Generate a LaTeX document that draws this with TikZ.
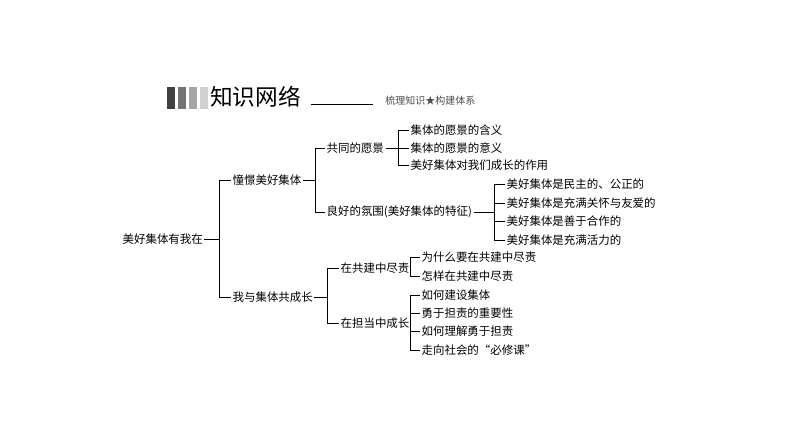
\documentclass[tikz,border=0pt]{standalone}
\usepackage{fontspec}
\setmainfont{Noto Sans CJK SC}
\begin{document}
\begin{tikzpicture}[x=0.75pt,y=-0.75pt,
  t/.style={anchor=west,inner sep=1pt,font=\fontsize{8.6}{10}\selectfont},
  ln/.style={line width=0.6pt}]
\useasboundingbox (0,0) rectangle (794,446);
% header
\fill[black!75] (167,87) rectangle (175,109);
\fill[black!55] (178,87) rectangle (186,109);
\fill[black!35] (189,87) rectangle (197,109);
\fill[black!18] (200,87) rectangle (208,109);
\node[anchor=west,inner sep=0,font=\fontsize{17}{20}\selectfont] (title) at (210,97) {知识网络};
\coordinate (hl1) at (311,104); \coordinate (hl2) at (373,104);
\draw[line width=0.5pt] (hl1) -- (hl2);
\node[anchor=west,inner sep=0,font=\fontsize{7.5}{9}\selectfont,text=black!70] (sub) at (385,101) {梳理知识★构建体系};
% nodes
\node[t] (r) at (121,239) {美好集体有我在};
\node[t] (a) at (231,180) {憧憬美好集体};
\node[t] (b) at (231,297) {我与集体共成长};
\node[t] (a1) at (325,148) {共同的愿景};
\node[t] (a2) at (325,212) {良好的氛围(美好集体的特征)};
\node[t] (a11) at (409,130) {集体的愿景的含义};
\node[t] (a12) at (409,148) {集体的愿景的意义};
\node[t] (a13) at (409,165) {美好集体对我们成长的作用};
\node[t] (a21) at (505,184) {美好集体是民主的、公正的};
\node[t] (a22) at (505,203) {美好集体是充满关怀与友爱的};
\node[t] (a23) at (505,221) {美好集体是善于合作的};
\node[t] (a24) at (505,240) {美好集体是充满活力的};
\node[t] (b1) at (339,268) {在共建中尽责};
\node[t] (b2) at (339,323) {在担当中成长};
\node[t] (b11) at (420,257) {为什么要在共建中尽责};
\node[t] (b12) at (420,276) {怎样在共建中尽责};
\node[t] (b21) at (420,295) {如何建设集体};
\node[t] (b22) at (420,313) {勇于担责的重要性};
\node[t] (b23) at (420,331) {如何理解勇于担责};
\node[t] (b24) at (420,350) {走向社会的“必修课”};
% connectors
\foreach \p/\x/\f/\l/\cs in {r/219/a/b/{a,b}, a/315/a1/a2/{a1,a2}, a1/398/a11/a13/{a11,a12,a13},
  a2/494/a21/a24/{a21,a22,a23,a24}, b/327/b1/b2/{b1,b2}, b1/410/b11/b12/{b11,b12},
  b2/410/b21/b24/{b21,b22,b23,b24}}{
  \coordinate (v) at (\x,0);
  \draw[ln] (\p.east) -- (v |- \p.east);
  \draw[ln] (v |- \f.west) -- (v |- \l.west);
  \foreach \c in \cs {\draw[ln] (v |- \c.west) -- (\c.west);}
}
\end{tikzpicture}
\end{document}
